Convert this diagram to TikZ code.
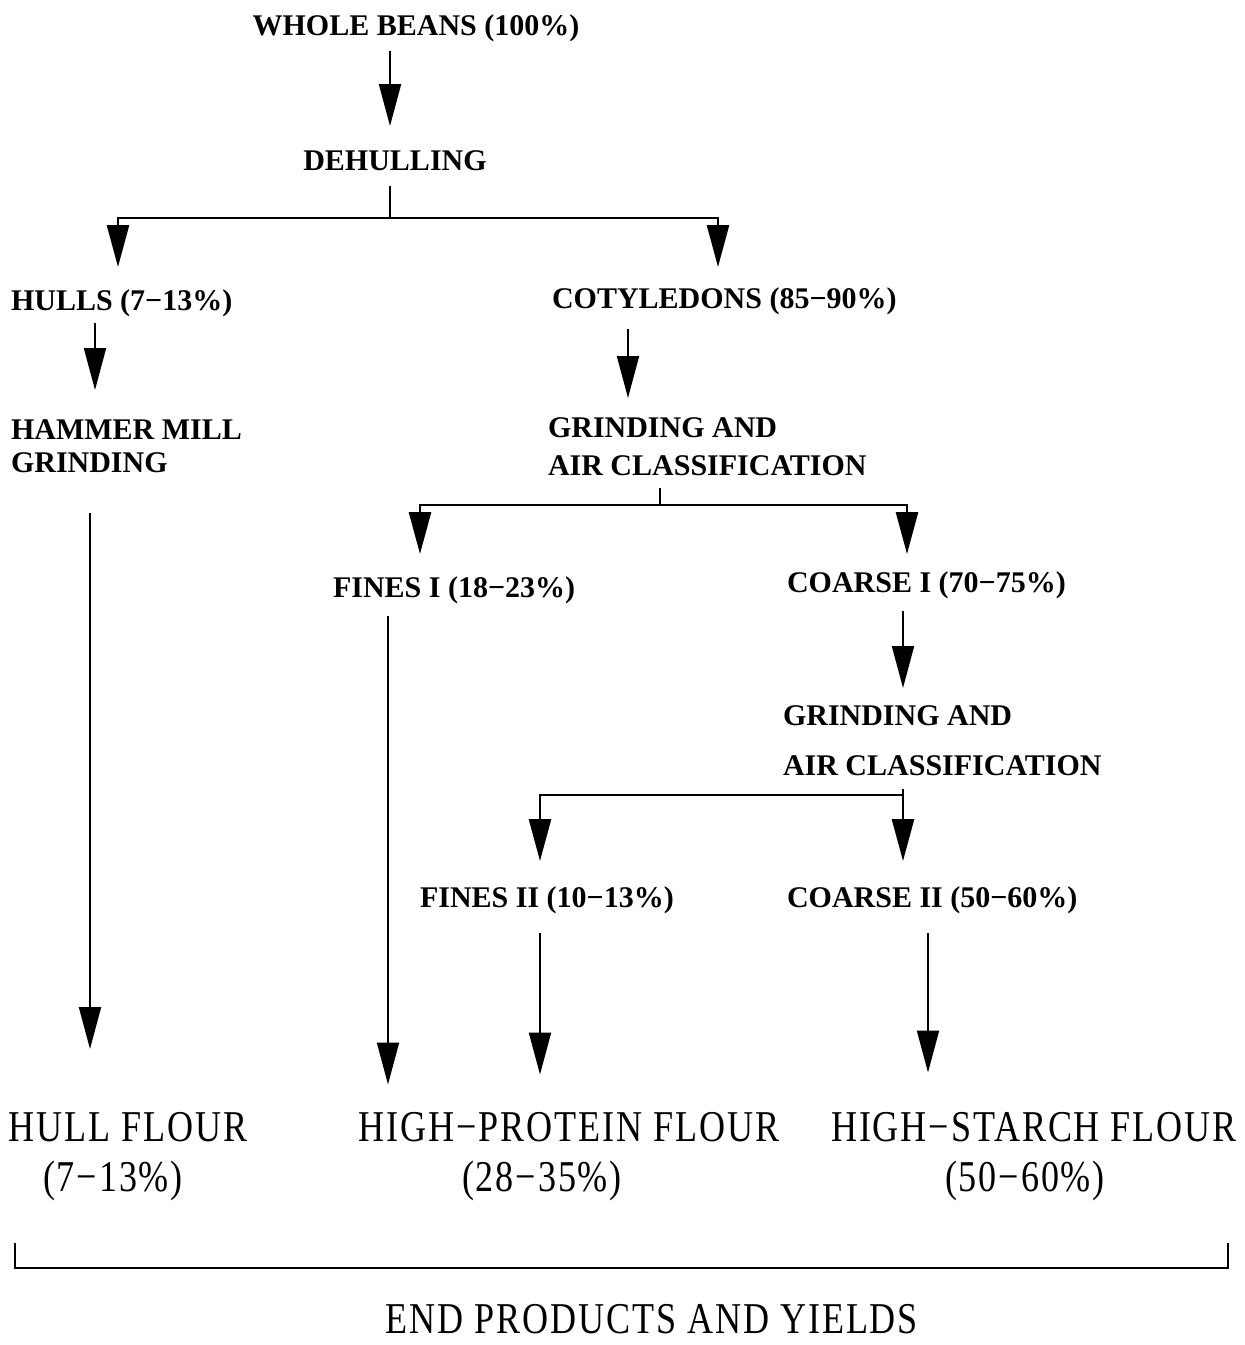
\documentclass[tikz,border=0pt]{standalone}
\usepackage{fontspec}
\usetikzlibrary{arrows.meta}
\newfontfamily\labfont{Liberation Serif}
\newfontfamily\flourfont{Liberation Serif}[FakeStretch=0.82,LetterSpace=4.3]

\begin{document}
\begin{tikzpicture}[x=0.5pt,y=-0.5pt,line width=1pt,
  etape/.style={font={\labfont\bfseries\fontsize{15pt}{16.5pt}\selectfont},inner sep=0pt,text height=10.5pt,text depth=3.5pt},
  etapes/.style={font={\labfont\bfseries\fontsize{15pt}{16.5pt}\selectfont},inner sep=0pt,align=left,anchor=north west},
  produit/.style={font={\flourfont\fontsize{22pt}{26pt}\selectfont},inner sep=0pt,text height=15pt,text depth=4.5pt},
  fleche/.style={-{Triangle[width=11pt,length=21pt]},shorten <=4pt,shorten >=10pt},
  branche/.style={line width=1.3pt,shorten <=0pt}]
\useasboundingbox (0,0) rectangle (1245,1345); % boite englobante

\node[etape] (beans) at (416,28) {WHOLE BEANS (100\%)};
\node[etape] (dehull) at (395,163) {DEHULLING};
\node[etape,anchor=west] (hulls) at (10,303) {HULLS (7−13\%)};
\node[etape,anchor=west] (coty) at (551,301) {COTYLEDONS (85−90\%)};
\node[etapes] (hammer) at (10,419) {HAMMER MILL\\GRINDING};
\node[etapes] (grind1) at (547,417) {GRINDING AND\\[2.5pt]AIR CLASSIFICATION};
\node[etape,anchor=west] (fines1) at (332,590) {FINES I (18−23\%)};
\node[etape,anchor=west] (coarse1) at (786,585) {COARSE I (70−75\%)};
\node[etapes] (grind2) at (782,705) {GRINDING AND\\[8.5pt]AIR CLASSIFICATION};
\node[etape,anchor=west] (fines2) at (419,900) {FINES II (10−13\%)};
\node[etape,anchor=west] (coarse2) at (786,900) {COARSE II (50−60\%)};

% produits finis
\node[produit] (hflour) at (128,1131) {HULL FLOUR};
\node[produit] (hyield) at (113,1181) {(7−13\%)};
\node[produit] (pflour) at (569,1131) {HIGH−PROTEIN FLOUR};
\node[produit] (pyield) at (542,1181) {(28−35\%)};
\node[produit] (sflour) at (1034,1131) {HIGH−STARCH FLOUR};
\node[produit] (syield) at (1025,1181) {(50−60\%)};
\node[produit,text depth=0pt] (bilan) at (652,1318) {END PRODUCTS AND YIELDS};

\draw[fleche,shorten >=11pt] (beans.south -| 390,0) -- (dehull.north -| 390,0);
\coordinate (split1) at (390,218);
\draw[shorten <=4pt] (dehull.south -| split1) -- (split1);
\draw[fleche,branche,shorten >=10.5pt] (split1) -| (hulls.north -| 118,0);
\draw[fleche,branche,shorten >=9.5pt] (split1) -| (coty.north -| 718,0);

\draw[fleche,shorten <=2.5pt,shorten >=14.5pt] (hulls.south -| 95,0) -- (hammer.north -| 95,0);
\draw[fleche,shorten <=6.5pt,shorten >=9.5pt] (coty.south -| 628,0) -- (grind1.north -| 628,0);
\coordinate (split2) at (660,505);
\draw[shorten <=5.5pt] (grind1.south -| split2) -- (split2);
\draw[fleche,branche,shorten >=10.5pt] (split2) -| (fines1.north -| 420,0);
\draw[fleche,branche,shorten >=8pt] (split2) -| (coarse1.north -| 907,0);

\draw[fleche,shorten <=5.5pt,shorten >=8.5pt] (coarse1.south -| 903,0) -- (grind2.north -| 903,0);
\coordinate (split3) at (903,795);
\draw[shorten <=6pt] (grind2.south -| split3) -- (split3);
\draw[fleche,branche,shorten >=12pt] (split3) -| (fines2.north -| 540,0);
\draw[fleche,branche,shorten >=12pt] (split3) -- (coarse2.north -| 903,0);

% longues fleches
\draw[fleche,shorten <=19.5pt,shorten >=30.75pt] (hammer.south -| 90,0) -- (hflour.north -| 90,0);
\draw[fleche,shorten <=5.5pt,shorten >=13pt] (fines1.south -| 388,0) -- (pflour.north -| 388,0);
\draw[fleche,shorten <=9pt,shorten >=18pt] (fines2.south -| 540,0) -- (pflour.north -| 540,0);
\draw[fleche,shorten <=9pt,shorten >=19pt] (coarse2.south -| 928,0) -- (sflour.north -| 928,0);

\draw[line width=1.3pt] (15,1243) |- (1228,1268) -- (1228,1243);
\end{tikzpicture}
\end{document}
